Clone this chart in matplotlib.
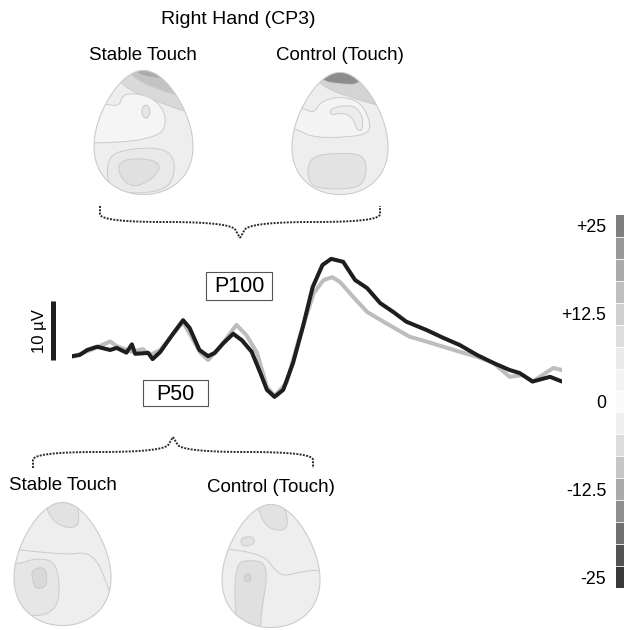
import matplotlib.pyplot as plt
import numpy as np
from matplotlib.patches import Polygon, Rectangle, Ellipse
from matplotlib.colors import ListedColormap

plt.rcParams['font.family'] = ['Liberation Sans', 'DejaVu Sans']

W, H = 624, 630

# ERP waveforms, time (ms) / amplitude (µV)
dark_ms = [-50, -43, -36, -27, -15, -9, 0, 5, 8, 20, 24, 31, 42, 52, 58, 67, 75, 81, 89, 98,
           106, 115, 123, 129, 136, 144, 153, 162, 171, 180, 188, 199, 210, 221, 233, 245, 257,
           276, 291, 306, 322, 337, 352, 361, 373, 389, 400]
dark_uv = [-0.2, 0, 0.85, 1.4, 0.85, 1.2, 0.4, 1.8, 0.2, 0.35, -0.7, 0.5, 3.4, 5.9, 4.6, 0.85,
           -0.2, 0.35, 2.0, 3.6, 2.5, 0.55, -3.05, -5.9, -7.1, -5.9, -1.35, 4.75, 11.5, 15.25,
           16.3, 15.8, 12.7, 11.35, 8.8, 7.3, 5.65, 4.2, 2.9, 1.7, 0, -1.35, -2.55, -3.05, -4.5,
           -3.7, -4.5]
grey_ms = [-50, -37, -27, -15, -9, 5, 15, 22, 31, 52, 68, 75, 86, 101, 110, 120, 129, 136, 147,
           159, 172, 181, 189, 196, 208, 221, 236, 260, 276, 306, 322, 337, 352, 364, 373, 392, 400]
grey_uv = [-0.35, 0.55, 1.3, 2.3, 1.5, 0.55, 1.0, 0, 0.85, 5.6, 0.35, -0.85, 1.35, 5.1, 3.4, 0.35,
           -5.4, -6.95, -4.75, 3.1, 10.5, 12.7, 13.2, 12.4, 9.9, 7.3, 5.65, 3.1, 2.25, 0.55, -0.3,
           -1.35, -3.7, -3.4, -4.5, -2.2, -2.55]
scale_uv = 10

# colour scale (µV), top to bottom
cbar_values = np.linspace(25, -25, 17)
cbar_grays = ['#7f7f7f', '#999999', '#ababab', '#bfbfbf', '#cfcfcf', '#dedede', '#eaeaea',
              '#f3f3f3', '#fafafa', '#efefef', '#dcdcdc', '#c6c6c6', '#ababab', '#8f8f8f',
              '#707070', '#525252', '#383838']
cbar_ticks = [25, 12.5, 0, -12.5, -25]
cbar_labels = ['+25', '+12.5', '0', '-12.5', '-25']

title = 'Right Hand (CP3)'
cond_labels = ['Stable Touch', 'Control (Touch)']

# scalp maps: regions given as (grey, outline) in head-box fractions
heads = {
    'top_left': dict(box=(92, 68, 195, 197), regions=[
        ('#d9d9d9', [(0.22, 0.12), (0.90, 0.33), (1.1, 0.36), (1.1, -0.1), (0.22, -0.1)]),
        ('#c3c3c3', [(0.35, 0.055), (0.84, 0.21), (1.1, 0.23), (1.1, -0.1), (0.35, -0.1)]),
        ('#ababab', [(0.40, 0.03), (0.70, 0.075), (1.1, 0.09), (1.1, -0.1), (0.40, -0.1)]),
        ('#f5f5f5', [(-0.1, 0.25), (0.126, 0.274), (0.256, 0.287), (0.288, 0.196), (0.417, 0.183),
                     (0.595, 0.222), (0.709, 0.326), (0.725, 0.442), (0.66, 0.519), (0.417, 0.57),
                     (0.06, 0.584), (-0.1, 0.584)]),
        ('#e9e9e9', [(0.126, 0.79), (0.175, 0.674), (0.385, 0.63), (0.644, 0.623), (0.79, 0.674),
                     (0.822, 0.816), (0.741, 0.958), (0.417, 0.997), (0.158, 0.958)]),
        ('#e0e0e0', [(0.24, 0.765), (0.32, 0.713), (0.579, 0.713), (0.683, 0.777), (0.579, 0.881),
                     (0.40, 0.946), (0.272, 0.868)]),
    ], blobs=[('#e6e6e6', (0.524, 0.331), 0.08, 0.103)], lines=[]),
    'top_right': dict(box=(290, 70, 390, 197), regions=[
        ('#d4d4d4', [(0.233, 0.105), (0.90, 0.276), (1.1, 0.30), (1.1, -0.1), (0.233, -0.1)]),
        ('#8c8c8c', [(0.30, 0.07), (0.50, 0.095), (0.72, 0.10), (0.8, -0.1), (0.2, -0.1)]),
        ('#f4f4f4', [(-0.1, 0.262), (0.10, 0.289), (0.233, 0.336), (0.30, 0.236), (0.50, 0.197),
                     (0.70, 0.236), (0.80, 0.367), (0.817, 0.485), (0.667, 0.525), (0.233, 0.538),
                     (0.033, 0.459), (-0.1, 0.446)]),
        ('#ececec', [(0.40, 0.289), (0.65, 0.262), (0.74, 0.367), (0.733, 0.478), (0.673, 0.472),
                     (0.633, 0.367), (0.517, 0.328), (0.40, 0.354)]),
        ('#e3e3e3', [(0.167, 0.76), (0.233, 0.682), (0.467, 0.661), (0.733, 0.669), (0.783, 0.787),
                     (0.733, 0.932), (0.50, 0.958), (0.233, 0.945), (0.167, 0.866)]),
    ], blobs=[], lines=[]),
    'bottom_left': dict(box=(12, 500, 113, 628), regions=[
        ('#e2e2e2', [(0.30, -0.1), (0.327, 0.039), (0.409, 0.156), (0.541, 0.208), (0.657, 0.195),
                     (0.673, 0.104), (0.624, -0.1)]),
        ('#e6e6e6', [(-0.1, 0.495), (0.079, 0.495), (0.211, 0.456), (0.409, 0.469), (0.468, 0.625),
                     (0.459, 0.833), (0.31, 0.924), (0.079, 0.911), (-0.1, 0.911)]),
        ('#d9d9d9', [(0.178, 0.547), (0.31, 0.521), (0.343, 0.599), (0.327, 0.69), (0.228, 0.703),
                     (0.195, 0.651)]),
    ], blobs=[], lines=[
        [(-0.05, 0.378), (0.277, 0.404), (0.574, 0.422), (0.739, 0.404), (0.871, 0.482),
         (0.987, 0.73), (1.05, 0.9)],
    ]),
    'bottom_right': dict(box=(220, 502, 322, 630), regions=[
        ('#e2e2e2', [(0.36, -0.1), (0.36, 0.023), (0.454, 0.193), (0.65, 0.219), (0.676, 0.102),
                     (0.569, -0.1)]),
        ('#e2e2e2', [(0.196, 0.271), (0.294, 0.258), (0.343, 0.297), (0.294, 0.336),
                     (0.196, 0.336)]),
        ('#e0e0e0', [(0.157, 0.479), (0.255, 0.453), (0.435, 0.466), (0.458, 0.607), (0.418, 0.789),
                     (0.392, 0.971), (0.392, 1.1), (0.157, 1.1), (0.124, 0.685)]),
    ], blobs=[('#d6d6d6', (0.261, 0.596), 0.065, 0.065)], lines=[
        [(-0.05, 0.35), (0.294, 0.388), (0.458, 0.44), (0.523, 0.518), (0.621, 0.583),
         (0.784, 0.552), (0.948, 0.531), (1.05, 0.55)],
    ]),
}


def chaikin(pts, n=3, closed=True):
    p = np.asarray(pts, float)
    for _ in range(n):
        q = np.roll(p, -1, axis=0) if closed else p[1:]
        a = p if closed else p[:-1]
        r = np.empty((2 * len(a), 2))
        r[0::2] = 0.75 * a + 0.25 * q
        r[1::2] = 0.25 * a + 0.75 * q
        p = r if closed else np.vstack([p[:1], r, p[-1:]])
    return p


def px_axes(x0, y0, x1, y1):
    return fig.add_axes([x0 / W, 1 - y1 / H, (x1 - x0) / W, (y1 - y0) / H])


def draw_head(spec):
    hx = px_axes(*spec['box'])
    hx.set_xlim(-0.02, 1.02)
    hx.set_ylim(1.02, -0.02)
    hx.axis('off')
    t = np.linspace(0, 2 * np.pi, 240)
    v = -np.cos(t)
    u = np.sin(t) * (1 + 0.25 * v) / 1.03
    outline = np.c_[0.5 + 0.5 * u, 0.5 + 0.5 * v]
    egg = Polygon(outline, closed=True, fc='#eeeeee', ec='none')
    hx.add_patch(egg)
    for col, pts in spec['regions']:
        hx.add_patch(Polygon(chaikin(pts), closed=True, fc=col, ec='#cbcbcb', lw=0.7,
                             clip_path=egg))
    for col, c, w, h in spec['blobs']:
        hx.add_patch(Ellipse(c, w, h, fc=col, ec='#c8c8c8', lw=0.7, clip_path=egg))
    for pts in spec['lines']:
        s = chaikin(pts, closed=False)
        hx.plot(s[:, 0], s[:, 1], color='#cbcbcb', lw=0.7, clip_path=egg)
    hx.add_patch(Polygon(outline, closed=True, fc='none', ec='#cccccc', lw=0.8))


def brace(ax, x0, x1, xm, y_end, y_line, y_tip):
    left = chaikin([(x0, y_end), (x0, y_line), (xm - 9, y_line), (xm, y_tip)], 4, closed=False)
    right = chaikin([(xm, y_tip), (xm + 9, y_line), (x1, y_line), (x1, y_end)], 4, closed=False)
    for s in (left, right):
        ax.plot(s[:, 0], s[:, 1], color='#2a2a2a', lw=1.4, ls=(0, (1, 0.7)))


fig = plt.figure(figsize=(W / 100, H / 100), dpi=100)

ax = px_axes(0, 0, W, H)
ax.set_xlim(0, W)
ax.set_ylim(H, 0)
ax.axis('off')

ax.text(238, 20, title, fontsize=14, ha='center', va='center')
ax.text(143, 55, cond_labels[0], fontsize=13.5, ha='center', va='center')
ax.text(340, 55, cond_labels[1], fontsize=13.5, ha='center', va='center')
ax.text(63, 485, cond_labels[0], fontsize=13.5, ha='center', va='center')
ax.text(271, 488, cond_labels[1], fontsize=13.5, ha='center', va='center')

brace(ax, 100, 380, 240, 206, 222, 238)
brace(ax, 33, 313, 173, 468, 452, 437)

ax.add_patch(Rectangle((206, 272), 66, 28, fill=False, ec='#555555', lw=0.8))
ax.text(239, 287, 'P100', fontsize=15.5, ha='center', va='center')
ax.add_patch(Rectangle((143, 380), 65, 26, fill=False, ec='#555555', lw=0.8))
ax.text(175.5, 394, 'P50', fontsize=15.5, ha='center', va='center')

for spec in heads.values():
    draw_head(spec)

# waveforms
ax_w = px_axes(72, 250, 562, 400)
ax_w.set_xlim(-50, 400)
ax_w.set_ylim(-7.63, 17.8)
ax_w.axis('off')
ax_w.plot(grey_ms, grey_uv, color='#bdbdbd', lw=2.9, solid_joinstyle='round',
          solid_capstyle='round')
ax_w.plot(dark_ms, dark_uv, color='#1e1e1e', lw=2.9, solid_joinstyle='round',
          solid_capstyle='round')
ax_w.plot([-67.4, -67.4], [-0.85, -0.85 + scale_uv], color='#1e1e1e', lw=3.6,
          solid_capstyle='butt', clip_on=False)
ax_w.text(-80, 4.0, '10 µV', rotation=90, fontsize=12, ha='center', va='center')

# colour scale
cax = px_axes(616, 215, 624, 588)
step = cbar_values[0] - cbar_values[1]
cax.imshow(cbar_values.reshape(-1, 1), cmap=ListedColormap(cbar_grays[::-1]),
           vmin=-25, vmax=25, aspect='auto', origin='upper',
           extent=(0, 1, cbar_values[-1] - step / 2, cbar_values[0] + step / 2))
for b in cbar_values[:-1] - step / 2:
    cax.axhline(b, color='white', lw=0.6)
cax.set_xticks([])
cax.set_yticks(cbar_ticks, cbar_labels)
cax.tick_params(length=0, pad=7, labelsize=12.8)
for sp in cax.spines.values():
    sp.set_visible(False)

fig.savefig('out.png', dpi=100)
